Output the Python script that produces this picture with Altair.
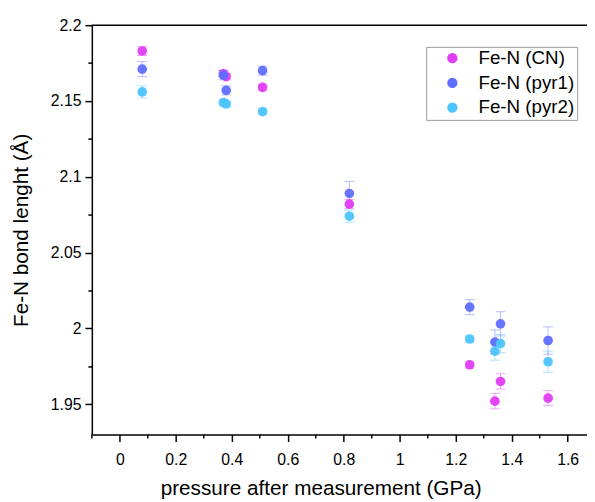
import altair as alt
import pandas as pd

series = ["Fe-N (CN)", "Fe-N (pyr1)", "Fe-N (pyr2)"]
colors = ["#E03CF6", "#5F6EFF", "#4CC4FF"]

pressure = [0.08, 0.37, 0.38, 0.51, 0.82, 1.25, 1.34, 1.36, 1.53]

cn_len = [2.183, 2.168, 2.166, 2.159, 2.082, 1.976, 1.952, 1.965, 1.954]
cn_err = [0.003, 0.002, 0.002, 0.002, 0.003, 0.002, 0.005, 0.005, 0.005]

pyr1_len = [2.171, 2.167, 2.157, 2.170, 2.089, 2.014, 1.991, 2.003, 1.992]
pyr1_err = [0.005, 0.003, 0.003, 0.003, 0.008, 0.005, 0.008, 0.008, 0.009]

pyr2_len = [2.156, 2.149, 2.148, 2.143, 2.074, 1.993, 1.985, 1.990, 1.978]
pyr2_err = [0.004, 0.002, 0.002, 0.002, 0.004, 0.002, 0.006, 0.006, 0.007]

x_major = [0, 0.2, 0.4, 0.6, 0.8, 1.0, 1.2, 1.4, 1.6]
x_minor = [-0.1, 0.1, 0.3, 0.5, 0.7, 0.9, 1.1, 1.3, 1.5]
y_ticks = [round(1.95 + 0.025 * i, 3) for i in range(11)]

rows = []
for name, ys, es in zip(series, [cn_len, pyr1_len, pyr2_len], [cn_err, pyr1_err, pyr2_err]):
    for p, y, e in zip(pressure, ys, es):
        rows.append({"series": name, "p": p, "y": y, "lo": y - e, "hi": y + e})
df = pd.DataFrame(rows)

W, H = 502, 415

xscale = alt.Scale(domain=[-0.1, 1.669], nice=False, zero=False)
yscale = alt.Scale(domain=[1.93, 2.2], nice=False, zero=False)
cscale = alt.Scale(domain=series, range=colors)

x_axis = alt.Axis(
    values=x_major,
    labelExpr="toString(round(datum.value*10)/10)",
    tickSize=7, labelOverlap=False,
    grid=False, domainColor="black", domainWidth=1.5, tickColor="black", tickWidth=1.5,
    labelFontSize=16, labelColor="black", labelPadding=10, labelFlush=False,
    title="pressure after measurement (GPa)", titleFontSize=21, titleFontWeight="normal",
    titleColor="black", titleX=232, titleY=61, titleBaseline="alphabetic", titleAnchor="middle",
)
y_axis = alt.Axis(
    values=y_ticks,
    labelExpr="round(datum.value*40) % 2 == 0 ? toString(round(datum.value*100)/100) : ''",
    tickSize={"condition": {"test": "round(datum.value*40) % 2 == 0", "value": 7}, "value": 4},
    grid=False, domainColor="black", domainWidth=1.5, tickColor="black", tickWidth=1.5,
    labelFontSize=16, labelColor="black", labelPadding=4, labelFlush=False,
    title="Fe-N bond lenght (Å)", titleFontSize=21, titleFontWeight="normal",
    titleColor="black", titleX=-71, titleBaseline="middle",
)

legend = alt.Legend(
    title=None, orient="none", legendX=339, legendY=22,
    strokeColor="#999999", fillColor="white", padding=2, cornerRadius=0,
    symbolType="circle", symbolSize=80, symbolOffset=15, symbolOpacity=1,
    labelFontSize=19, labelColor="black", labelOffset=17, rowPadding=5,
)
color = alt.Color("series:N", scale=cscale, sort=series, legend=legend)

base = alt.Chart(df)

bars = base.mark_rule(strokeWidth=1, opacity=0.45).encode(
    x=alt.X("p:Q", scale=xscale, axis=x_axis),
    y=alt.Y("lo:Q", scale=yscale, axis=y_axis),
    y2="hi:Q",
    color=color,
)
cap_lo = base.mark_tick(orient="horizontal", size=10, thickness=1, opacity=0.45).encode(
    x=alt.X("p:Q", scale=xscale, axis=x_axis),
    y=alt.Y("lo:Q", scale=yscale, axis=y_axis),
    color=color,
)
cap_hi = base.mark_tick(orient="horizontal", size=10, thickness=1, opacity=0.45).encode(
    x=alt.X("p:Q", scale=xscale, axis=x_axis),
    y=alt.Y("hi:Q", scale=yscale, axis=y_axis),
    color=color,
)
points = base.mark_circle(size=95, opacity=0.95).encode(
    x=alt.X("p:Q", scale=xscale, axis=x_axis),
    y=alt.Y("y:Q", scale=yscale, axis=y_axis),
    color=color,
)
minor = alt.Chart(pd.DataFrame({"m": x_minor})).mark_rule(color="black", strokeWidth=1.5).encode(
    x=alt.X("m:Q", scale=xscale, axis=x_axis),
    y=alt.value(H), y2=alt.value(H + 4),
)
top = alt.Chart(pd.DataFrame({"a": [0]})).mark_rule(color="black", strokeWidth=1.5).encode(
    x=alt.value(0), x2=alt.value(W), y=alt.value(0)
)

chart = alt.layer(bars, cap_lo, cap_hi, points, minor, top).properties(
    width=W, height=H,
    autosize=alt.AutoSizeParams(type="none"),
    padding={"left": 85, "top": 14, "right": 0, "bottom": 65},
).configure(font="Liberation Sans").configure_view(stroke=None)

chart.save("out.html", embed_options={"renderer": "svg", "actions": False})
